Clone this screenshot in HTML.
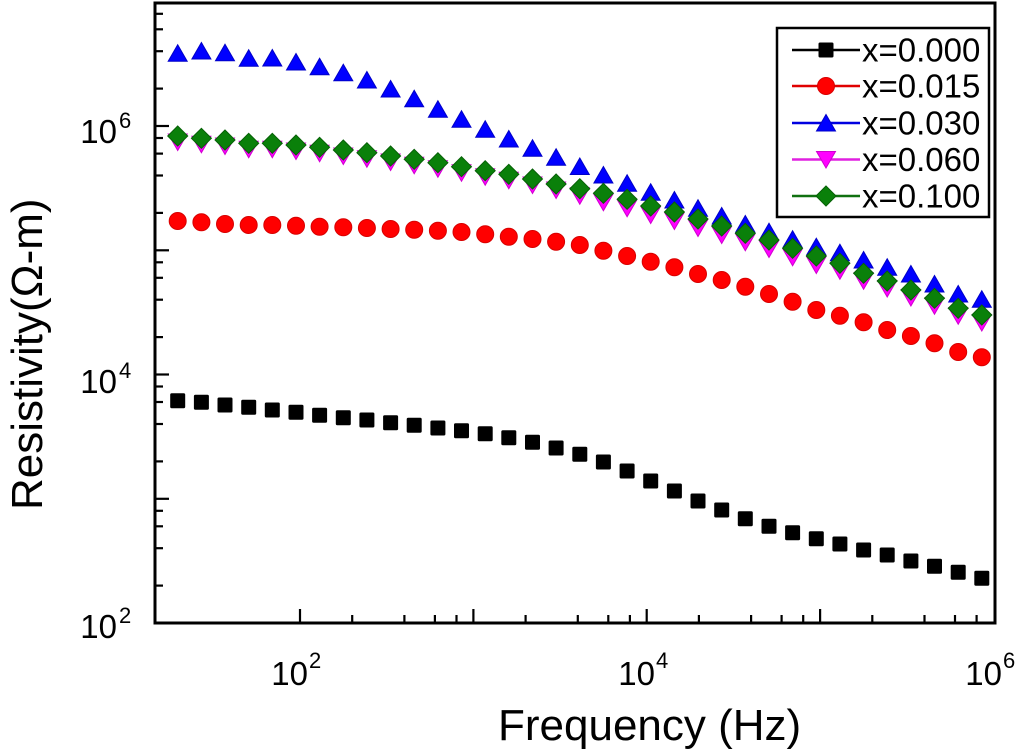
<!DOCTYPE html>
<html><head><meta charset="utf-8"><style>
html,body{margin:0;padding:0;background:#fff;}
svg{display:block;}
text{font-family:"Liberation Sans",Arial,sans-serif;fill:#000;}
</style></head><body>
<svg width="1024" height="750" viewBox="0 0 1024 750" xmlns="http://www.w3.org/2000/svg">
<defs>
<rect id="sq" x="-7.5" y="-7.5" width="15" height="15" rx="1.5" fill="#000"/>
<circle id="ci" r="8.5" fill="#ff0000" stroke="#d80000" stroke-width="1"/>
<polygon id="tu" points="-9.5,8 9.5,8 0,-8.5" fill="#0000ff" stroke="#0000c8" stroke-width="1"/>
<polygon id="td" points="-9.5,-8 9.5,-8 0,8.5" fill="#ff00ff" stroke="#d000d0" stroke-width="1"/>
<polygon id="di" points="0,-10 10,0 0,10 -10,0" fill="#0a800a" stroke="#066006" stroke-width="1"/>
</defs>
<rect width="1024" height="750" fill="#fff"/>

<!-- axes frame -->
<rect x="155" y="3" width="840" height="620" fill="none" stroke="#000" stroke-width="3"/>

<!-- y ticks -->
<g stroke="#000" stroke-width="2.2">
<line x1="155" y1="623" x2="169" y2="623"/>
<line x1="155" y1="585.6" x2="163" y2="585.6"/>
<line x1="155" y1="548.2" x2="163" y2="548.2"/>
<line x1="155" y1="526.3" x2="163" y2="526.3"/>
<line x1="155" y1="510.8" x2="163" y2="510.8"/>
<line x1="155" y1="498.8" x2="169" y2="498.8"/>
<line x1="155" y1="461.4" x2="163" y2="461.4"/>
<line x1="155" y1="424.0" x2="163" y2="424.0"/>
<line x1="155" y1="402.0" x2="163" y2="402.0"/>
<line x1="155" y1="386.5" x2="163" y2="386.5"/>
<line x1="155" y1="374.5" x2="169" y2="374.5"/>
<line x1="155" y1="337.1" x2="163" y2="337.1"/>
<line x1="155" y1="299.7" x2="163" y2="299.7"/>
<line x1="155" y1="277.8" x2="163" y2="277.8"/>
<line x1="155" y1="262.3" x2="163" y2="262.3"/>
<line x1="155" y1="250.3" x2="169" y2="250.3"/>
<line x1="155" y1="212.9" x2="163" y2="212.9"/>
<line x1="155" y1="175.5" x2="163" y2="175.5"/>
<line x1="155" y1="153.6" x2="163" y2="153.6"/>
<line x1="155" y1="138.0" x2="163" y2="138.0"/>
<line x1="155" y1="126.0" x2="169" y2="126.0"/>
<line x1="155" y1="88.6" x2="163" y2="88.6"/>
<line x1="155" y1="51.2" x2="163" y2="51.2"/>
<line x1="155" y1="29.3" x2="163" y2="29.3"/>
<line x1="155" y1="13.8" x2="163" y2="13.8"/>
</g>

<!-- x ticks -->
<g stroke="#000" stroke-width="2.2">
<line x1="300" y1="623" x2="300" y2="609"/>
<line x1="352.2" y1="623" x2="352.2" y2="615"/>
<line x1="404.4" y1="623" x2="404.4" y2="615"/>
<line x1="434.9" y1="623" x2="434.9" y2="615"/>
<line x1="456.5" y1="623" x2="456.5" y2="615"/>
<line x1="473.4" y1="623" x2="473.4" y2="609"/>
<line x1="525.6" y1="623" x2="525.6" y2="615"/>
<line x1="577.8" y1="623" x2="577.8" y2="615"/>
<line x1="608.3" y1="623" x2="608.3" y2="615"/>
<line x1="629.9" y1="623" x2="629.9" y2="615"/>
<line x1="646.7" y1="623" x2="646.7" y2="609"/>
<line x1="698.9" y1="623" x2="698.9" y2="615"/>
<line x1="751.1" y1="623" x2="751.1" y2="615"/>
<line x1="781.6" y1="623" x2="781.6" y2="615"/>
<line x1="803.2" y1="623" x2="803.2" y2="615"/>
<line x1="820.1" y1="623" x2="820.1" y2="609"/>
<line x1="872.3" y1="623" x2="872.3" y2="615"/>
<line x1="924.5" y1="623" x2="924.5" y2="615"/>
<line x1="955.0" y1="623" x2="955.0" y2="615"/>
<line x1="976.6" y1="623" x2="976.6" y2="615"/>
</g>

<!-- y tick labels -->
<text x="117" y="143" font-size="33" text-anchor="end">10</text>
<text x="119" y="128" font-size="22">6</text>
<text x="117" y="393" font-size="33" text-anchor="end">10</text>
<text x="119" y="378" font-size="22">4</text>
<text x="117" y="638" font-size="33" text-anchor="end">10</text>
<text x="119" y="623" font-size="22">2</text>

<!-- x tick labels -->
<text x="308" y="685" font-size="33" text-anchor="end">10</text>
<text x="309" y="668" font-size="22">2</text>
<text x="655" y="685" font-size="33" text-anchor="end">10</text>
<text x="656" y="668" font-size="22">4</text>
<text x="1002" y="685" font-size="33" text-anchor="end">10</text>
<text x="1003" y="668" font-size="22">6</text>

<!-- axis labels -->
<text x="498" y="740" font-size="44">Frequency (Hz)</text>
<text transform="translate(42,510) rotate(-90)" font-size="44">Resistivity(Ω-m)</text>

<!-- black squares -->
<g>
<use href="#sq" x="177.7" y="400.7"/><use href="#sq" x="201.4" y="402.3"/><use href="#sq" x="225.0" y="405"/><use href="#sq" x="248.7" y="407.3"/><use href="#sq" x="272.3" y="410"/>
<use href="#sq" x="296.0" y="412.3"/><use href="#sq" x="319.6" y="415.3"/><use href="#sq" x="343.3" y="417.7"/><use href="#sq" x="366.9" y="420"/><use href="#sq" x="390.6" y="422.7"/>
<use href="#sq" x="414.2" y="425.3"/><use href="#sq" x="437.9" y="428"/><use href="#sq" x="461.5" y="430.7"/><use href="#sq" x="485.2" y="433.7"/><use href="#sq" x="508.8" y="437.7"/>
<use href="#sq" x="532.5" y="442.3"/><use href="#sq" x="556.1" y="448"/><use href="#sq" x="579.8" y="454.3"/><use href="#sq" x="603.4" y="462"/><use href="#sq" x="627.1" y="471"/>
<use href="#sq" x="650.7" y="481"/><use href="#sq" x="674.4" y="491"/><use href="#sq" x="698.0" y="501"/><use href="#sq" x="721.7" y="510"/><use href="#sq" x="745.3" y="518.7"/>
<use href="#sq" x="769.0" y="526.3"/><use href="#sq" x="792.6" y="532.7"/><use href="#sq" x="816.3" y="538.7"/><use href="#sq" x="839.9" y="544"/><use href="#sq" x="863.6" y="550"/>
<use href="#sq" x="887.2" y="555"/><use href="#sq" x="910.9" y="561"/><use href="#sq" x="934.5" y="566.3"/><use href="#sq" x="958.2" y="572.3"/><use href="#sq" x="981.8" y="578.3"/>
</g>

<!-- red circles -->
<g>
<use href="#ci" x="177.7" y="221"/><use href="#ci" x="201.4" y="222.3"/><use href="#ci" x="225.0" y="224"/><use href="#ci" x="248.7" y="225"/><use href="#ci" x="272.3" y="225"/>
<use href="#ci" x="296.0" y="225.7"/><use href="#ci" x="319.6" y="226.7"/><use href="#ci" x="343.3" y="227.3"/><use href="#ci" x="366.9" y="228"/><use href="#ci" x="390.6" y="229"/>
<use href="#ci" x="414.2" y="229.7"/><use href="#ci" x="437.9" y="230.7"/><use href="#ci" x="461.5" y="232"/><use href="#ci" x="485.2" y="234.3"/><use href="#ci" x="508.8" y="236.7"/>
<use href="#ci" x="532.5" y="239"/><use href="#ci" x="556.1" y="241.7"/><use href="#ci" x="579.8" y="245"/><use href="#ci" x="603.4" y="250.7"/><use href="#ci" x="627.1" y="256"/>
<use href="#ci" x="650.7" y="261.7"/><use href="#ci" x="674.4" y="267.3"/><use href="#ci" x="698.0" y="274"/><use href="#ci" x="721.7" y="280"/><use href="#ci" x="745.3" y="286.7"/>
<use href="#ci" x="769.0" y="294"/><use href="#ci" x="792.6" y="301.7"/><use href="#ci" x="816.3" y="310"/><use href="#ci" x="839.9" y="315.7"/><use href="#ci" x="863.6" y="322.3"/>
<use href="#ci" x="887.2" y="330"/><use href="#ci" x="910.9" y="336"/><use href="#ci" x="934.5" y="343.3"/><use href="#ci" x="958.2" y="352"/><use href="#ci" x="981.8" y="357.3"/>
</g>

<!-- blue triangles -->
<g>
<use href="#tu" x="177.7" y="53.3"/><use href="#tu" x="201.4" y="51"/><use href="#tu" x="225.0" y="52.7"/><use href="#tu" x="248.7" y="58.3"/><use href="#tu" x="272.3" y="58"/>
<use href="#tu" x="296.0" y="62"/><use href="#tu" x="319.6" y="66.7"/><use href="#tu" x="343.3" y="72.7"/><use href="#tu" x="366.9" y="80"/><use href="#tu" x="390.6" y="89"/>
<use href="#tu" x="414.2" y="98.7"/><use href="#tu" x="437.9" y="109.3"/><use href="#tu" x="461.5" y="119.3"/><use href="#tu" x="485.2" y="129.3"/><use href="#tu" x="508.8" y="139"/>
<use href="#tu" x="532.5" y="148.3"/><use href="#tu" x="556.1" y="157.3"/><use href="#tu" x="579.8" y="166.5"/><use href="#tu" x="603.4" y="175"/><use href="#tu" x="627.1" y="183.3"/>
<use href="#tu" x="650.7" y="192.3"/><use href="#tu" x="674.4" y="200"/><use href="#tu" x="698.0" y="208.3"/><use href="#tu" x="721.7" y="216"/><use href="#tu" x="745.3" y="224"/>
<use href="#tu" x="769.0" y="231.7"/><use href="#tu" x="792.6" y="239.3"/><use href="#tu" x="816.3" y="246.7"/><use href="#tu" x="839.9" y="252.7"/><use href="#tu" x="863.6" y="260"/>
<use href="#tu" x="887.2" y="267.3"/><use href="#tu" x="910.9" y="274"/><use href="#tu" x="934.5" y="284"/><use href="#tu" x="958.2" y="294"/><use href="#tu" x="981.8" y="299.3"/>
</g>

<!-- magenta inverted triangles -->
<g>
<use href="#td" x="177.7" y="142"/><use href="#td" x="201.4" y="144.3"/><use href="#td" x="225.0" y="146"/><use href="#td" x="248.7" y="149.3"/><use href="#td" x="272.3" y="149.3"/>
<use href="#td" x="296.0" y="151"/><use href="#td" x="319.6" y="153.3"/><use href="#td" x="343.3" y="156"/><use href="#td" x="366.9" y="158.7"/><use href="#td" x="390.6" y="162"/>
<use href="#td" x="414.2" y="165.3"/><use href="#td" x="437.9" y="168.7"/><use href="#td" x="461.5" y="172.7"/><use href="#td" x="485.2" y="176.7"/><use href="#td" x="508.8" y="180.3"/>
<use href="#td" x="532.5" y="185"/><use href="#td" x="556.1" y="190"/><use href="#td" x="579.8" y="195.7"/><use href="#td" x="603.4" y="202.3"/><use href="#td" x="627.1" y="208.3"/>
<use href="#td" x="650.7" y="215"/><use href="#td" x="674.4" y="221"/><use href="#td" x="698.0" y="228"/><use href="#td" x="721.7" y="235"/><use href="#td" x="745.3" y="242.3"/>
<use href="#td" x="769.0" y="249"/><use href="#td" x="792.6" y="257.3"/><use href="#td" x="816.3" y="265"/><use href="#td" x="839.9" y="270.8"/><use href="#td" x="863.6" y="280.8"/>
<use href="#td" x="887.2" y="288.5"/><use href="#td" x="910.9" y="297.5"/><use href="#td" x="934.5" y="305.8"/><use href="#td" x="958.2" y="315.8"/><use href="#td" x="981.8" y="322.5"/>
</g>

<!-- green diamonds -->
<g>
<use href="#di" x="177.7" y="136"/><use href="#di" x="201.4" y="138.3"/><use href="#di" x="225.0" y="140"/><use href="#di" x="248.7" y="143.3"/><use href="#di" x="272.3" y="143.3"/>
<use href="#di" x="296.0" y="145"/><use href="#di" x="319.6" y="147.3"/><use href="#di" x="343.3" y="150"/><use href="#di" x="366.9" y="152.7"/><use href="#di" x="390.6" y="156"/>
<use href="#di" x="414.2" y="159.3"/><use href="#di" x="437.9" y="162.7"/><use href="#di" x="461.5" y="166.7"/><use href="#di" x="485.2" y="170.7"/><use href="#di" x="508.8" y="174.3"/>
<use href="#di" x="532.5" y="179"/><use href="#di" x="556.1" y="184"/><use href="#di" x="579.8" y="188.7"/><use href="#di" x="603.4" y="193.3"/><use href="#di" x="627.1" y="199.3"/>
<use href="#di" x="650.7" y="206"/><use href="#di" x="674.4" y="212"/><use href="#di" x="698.0" y="219"/><use href="#di" x="721.7" y="226"/><use href="#di" x="745.3" y="233.3"/>
<use href="#di" x="769.0" y="240"/><use href="#di" x="792.6" y="248.3"/><use href="#di" x="816.3" y="256"/><use href="#di" x="839.9" y="263.3"/><use href="#di" x="863.6" y="273.3"/>
<use href="#di" x="887.2" y="281"/><use href="#di" x="910.9" y="290"/><use href="#di" x="934.5" y="298.3"/><use href="#di" x="958.2" y="308.3"/><use href="#di" x="981.8" y="315"/>
</g>

<!-- legend -->
<rect x="777" y="28" width="212" height="189" fill="#fff" stroke="#000" stroke-width="2.5"/>
<line x1="792" y1="50" x2="860" y2="50" stroke="#000" stroke-width="2.5"/>
<use href="#sq" x="826" y="50"/>
<text x="862" y="61.5" font-size="33">x=0.000</text>
<line x1="792" y1="86" x2="860" y2="86" stroke="#e00000" stroke-width="2.5"/>
<use href="#ci" x="826" y="86"/>
<text x="862" y="97.5" font-size="33">x=0.015</text>
<line x1="792" y1="123" x2="860" y2="123" stroke="#0000e0" stroke-width="2.5"/>
<use href="#tu" x="826" y="123"/>
<text x="862" y="134.5" font-size="33">x=0.030</text>
<line x1="792" y1="159.5" x2="860" y2="159.5" stroke="#e020e0" stroke-width="2.5"/>
<use href="#td" x="826" y="159.5"/>
<text x="862" y="171" font-size="33">x=0.060</text>
<line x1="792" y1="196" x2="860" y2="196" stroke="#107010" stroke-width="2.5"/>
<use href="#di" x="826" y="196"/>
<text x="862" y="207.5" font-size="33">x=0.100</text>
</svg>
</body></html>
